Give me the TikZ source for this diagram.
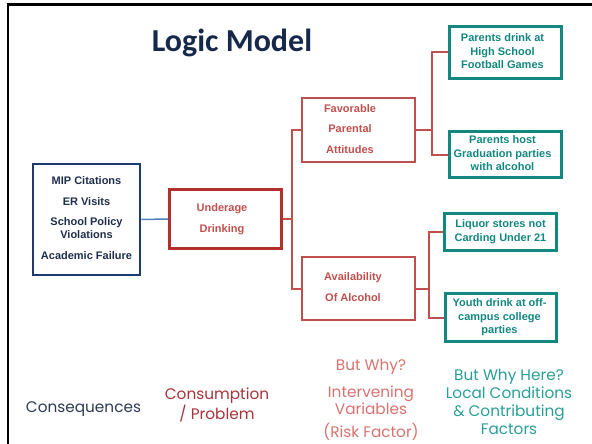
\documentclass[tikz,border=0pt]{standalone}
\usepackage{fontspec}
\setmainfont{Liberation Sans}
\newfontfamily\titlefont{Carlito}
\newfontfamily\botfont{Poppins}
\definecolor{navy}{HTML}{1F3A6E}
\definecolor{navytext}{HTML}{1F2D4D}
\definecolor{titlecol}{HTML}{17294A}
\definecolor{darkred}{HTML}{B52E2E}
\definecolor{midred}{HTML}{C0504D}
\definecolor{teal}{HTML}{12877F}
\definecolor{linkblue}{HTML}{4F81BD}
\definecolor{consq}{HTML}{2B3A55}
\definecolor{consum}{HTML}{A8323A}
\definecolor{salmon}{HTML}{D9726E}
\definecolor{tealtext}{HTML}{2A9E96}
\tikzset{
  boxtext/.style={font=\bfseries\fontsize{11}{13.5}\selectfont, inner sep=0pt},
  navybox/.style={boxtext, draw=navy, line width=2.7pt, text=navytext},
  underbox/.style={boxtext, draw=darkred, line width=3pt, text=midred},
  redbox/.style={boxtext, draw=midred, line width=2.7pt, text=midred},
  tealbox/.style={boxtext, draw=teal, line width=2.8pt, text=teal},
  redlink/.style={draw=midred, line width=2pt},
  bluelink/.style={draw=linkblue, line width=1.5pt},
  bottom/.style={font=\botfont\fontsize{15.3}{17.5}\selectfont, inner sep=0pt, align=center},
}
\renewcommand\arraystretch{1}
\begin{document}
\begin{tikzpicture}[x=1pt,y=-1pt]
\useasboundingbox (0,0) rectangle (592,444);
\draw[line width=2.5pt] (8,444) -- (8,4.5) -- (592,4.5);

\node[font=\titlefont\bfseries\fontsize{32}{36}\selectfont, text=titlecol, inner sep=0pt] (title) at (232,43) {Logic Model};

\node[navybox, minimum width=107pt, minimum height=111pt] (navy) at (86.5,219.5)
  {\begin{tabular}{@{}c@{}}MIP Citations\\[7pt]ER Visits\\[6.5pt]School Policy\\Violations\\[7pt]Academic Failure\end{tabular}};

\node[underbox, minimum width=112pt, minimum height=59pt] (under) at (225.5,219)
  {\begin{tabular}{@{}c@{}}Underage\\[7.5pt]Drinking\end{tabular}\kern7pt};

\node[redbox, minimum width=113pt, minimum height=64pt] (fav) at (358.5,130)
  {\begin{tabular}{@{}c@{}}Favorable\\[7pt]Parental\\[7pt]Attitudes\end{tabular}\kern17pt};

\node[redbox, minimum width=113pt, minimum height=63pt] (avail) at (358.5,288.5)
  {\begin{tabular}{@{}c@{}}Availability\\[7.5pt]Of Alcohol\end{tabular}\kern11pt};

\node[tealbox, minimum width=112pt, minimum height=52pt] (t1) at (505.5,52.5)
  {\begin{tabular}{@{}c@{}}Parents drink at\\High School\\Football Games\end{tabular}\kern6pt};
\node[tealbox, minimum width=112pt, minimum height=46pt] (t2) at (505.5,154.5)
  {\begin{tabular}{@{}c@{}}Parents host\\Graduation parties\\with alcohol\end{tabular}\kern6pt};
\node[tealbox, minimum width=112pt, minimum height=37pt] (t3) at (500.5,232)
  {\begin{tabular}{@{}c@{}}Liquor stores not\\Carding Under 21\end{tabular}};
\node[tealbox, minimum width=111pt, minimum height=48pt] (t4) at (501,317.5)
  {\begin{tabular}{@{}c@{}}Youth drink at off-\\campus college\\parties\end{tabular}\kern3pt};

% connectors
\draw[bluelink] (navy.east) -- (under.west);
\coordinate (j1) at (292,219);
\coordinate (j2) at (432,130);
\coordinate (j3) at (429,288.5);
\draw[redlink] (under.east) -- (j1);
\draw[redlink] (fav.west) -- (fav.west -| j1) -- (avail.west -| j1) -- (avail.west);
\draw[redlink] (fav.east) -- (j2);
\draw[redlink] (t1.west) -- (t1.west -| j2) -- (t2.west -| j2) -- (t2.west);
\draw[redlink] (avail.east) -- (j3);
\draw[redlink] (t3.west) -- (t3.west -| j3) -- (t4.west -| j3) -- (t4.west);

% bottom labels
\node[bottom, text=consq] (lcons) at (83.5,409.5) {Consequences};
\node[bottom, text=consum] (lprob) at (217,405) {Consumption\\/ Problem};
\node[bottom, text=salmon] (lwhy) at (371,400) {But Why?\\[9.5pt]Intervening\\[-0.5pt]Variables\\[5.5pt](Risk Factor)};
\node[bottom, text=tealtext, font=\botfont\fontsize{15.3}{18}\selectfont] (lhere) at (509,401.5) {But Why Here?\\Local Conditions\\\& Contributing\\Factors};
\end{tikzpicture}
\end{document}
